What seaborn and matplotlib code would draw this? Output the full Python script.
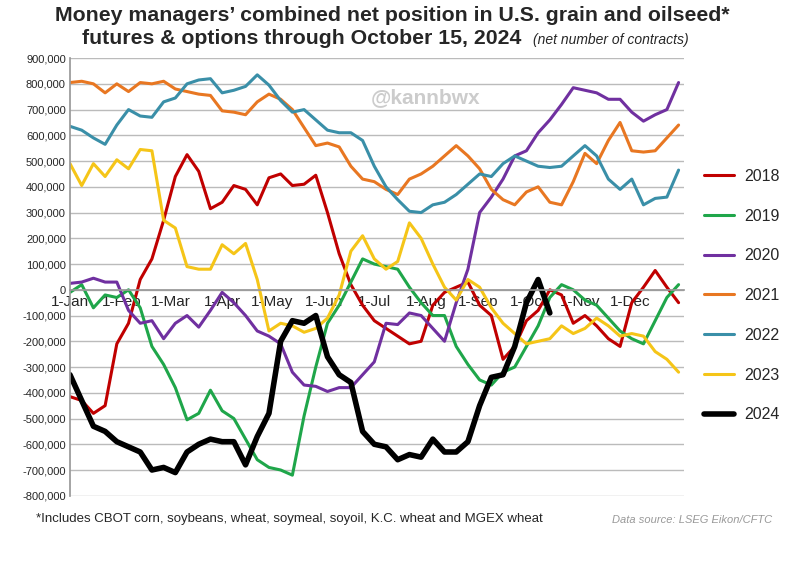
import matplotlib
matplotlib.use("Agg")
import matplotlib.pyplot as plt
import seaborn as sns
import pandas as pd
import numpy as np

years = ["2018", "2019", "2020", "2021", "2022", "2023", "2024"]
colors = ["#C00000", "#1FA64A", "#7030A0", "#E87722", "#3A8FA8", "#F5C518", "#000000"]

v2018 = [-415,-430,-480,-450,-210,-130,40,120,270,440,525,460,315,340,405,390,330,435,450,405,410,445,300,140,20,-60,-120,-150,-180,-210,-200,-60,-10,10,30,-60,-100,-270,-220,-120,-80,0,-20,-130,-100,-140,-190,-220,-50,10,75,10,-50]
v2019 = [-10,20,-70,-20,-30,0,-70,-220,-290,-380,-505,-480,-390,-470,-500,-580,-660,-690,-700,-720,-490,-300,-130,-60,30,120,100,90,80,10,-50,-100,-100,-220,-290,-350,-370,-320,-300,-220,-140,-30,20,0,-40,-60,-110,-160,-190,-210,-120,-30,20]
v2020 = [25,30,45,30,30,-80,-130,-120,-190,-130,-100,-145,-80,-10,-50,-100,-160,-180,-210,-320,-370,-375,-395,-380,-380,-330,-280,-130,-135,-90,-100,-150,-200,-50,80,300,360,430,520,540,610,660,720,785,775,765,740,740,690,655,680,700,805]
v2021 = [805,810,800,765,800,770,805,800,810,780,770,760,755,695,690,680,730,760,740,700,630,560,570,555,480,430,420,390,370,430,450,480,520,560,520,470,390,350,330,380,400,340,330,420,530,490,580,650,540,535,540,590,640]
v2022 = [635,620,590,565,640,700,675,670,730,745,800,815,820,765,775,790,835,795,735,690,700,660,620,610,610,580,480,400,350,305,300,330,340,370,410,450,440,490,520,500,480,475,480,520,560,520,430,390,430,330,355,360,465]
v2023 = [490,405,490,440,505,470,545,540,270,240,90,80,80,175,140,180,40,-160,-130,-140,-165,-150,-110,-20,150,210,120,80,110,260,200,100,10,-40,40,10,-70,-130,-170,-210,-200,-190,-140,-170,-150,-110,-140,-180,-170,-180,-240,-270,-320]
v2024 = [-330,-430,-530,-550,-590,-610,-630,-700,-690,-710,-630,-600,-580,-590,-590,-680,-570,-480,-200,-120,-130,-100,-260,-330,-360,-550,-600,-610,-660,-640,-650,-580,-630,-630,-590,-450,-340,-330,-220,-50,40,-90]
values = [v2018, v2019, v2020, v2021, v2022, v2023, v2024]

month_days = [1, 32, 61, 92, 122, 153, 183, 214, 245, 275, 306, 336]
month_labels = ["1-Jan", "1-Feb", "1-Mar", "1-Apr", "1-May", "1-Jun", "1-Jul", "1-Aug", "1-Sep", "1-Oct", "1-Nov", "1-Dec"]

rows = []
for y, vals in zip(years, values):
    for i, v in enumerate(vals):
        rows.append({"year": y, "day": 1 + 7 * i, "value": v * 1000})
df = pd.DataFrame(rows)

sns.set_theme(style="white")
plt.rcParams['font.family'] = ['Liberation Sans', 'DejaVu Sans']
fig = plt.figure(figsize=(8, 5.64), dpi=100)
ax = fig.add_axes([0.0875, 0.121, 0.767, 0.776])

for y, c in zip(years, colors):
    sub = df[df.year == y]
    sns.lineplot(data=sub, x="day", y="value", color=c, lw=4 if y == "2024" else 2.2,
                 ax=ax, label=y)

ax.set_xlim(1, 368)
ax.set_ylim(-800000, 900000)
ax.set_yticks(np.arange(-800000, 900001, 100000))
ax.set_yticklabels([f"{int(t):,}" for t in np.arange(-800000, 900001, 100000)], fontsize=8)
ax.yaxis.grid(True, color="#bbbbbb", lw=1)
ax.set_axisbelow(True)
ax.set_xticks(month_days)
ax.set_xticklabels(month_labels, fontsize=8)
ax.spines['bottom'].set_position(('data', 0))
ax.spines['bottom'].set_color("#999999")
ax.spines['left'].set_color("#999999")
for s in ['top', 'right']:
    ax.spines[s].set_visible(False)
ax.tick_params(axis='x', direction='out', length=3, color="#999999", pad=1)
ax.tick_params(axis='y', length=0, pad=3)
ax.set_xlabel("")
ax.set_ylabel("")

ax.legend(loc="upper left", bbox_to_anchor=(1.01, 0.78), frameon=False, fontsize=11.5,
          handlelength=1.9, labelspacing=1.55, handletextpad=0.6)

ax.text(0.49, 0.91, "@kannbwx", transform=ax.transAxes, fontsize=15, color="#cccccc",
        fontweight="bold", ha="left", va="center")

fig.text(0.49, 0.99, "Money managers\u2019 combined net position in U.S. grain and oilseed*",
         ha="center", va="top", fontsize=15.3, fontweight="bold")
fig.text(0.102, 0.948, "futures & options through October 15, 2024", ha="left", va="top",
         fontsize=15.3, fontweight="bold")
fig.text(0.666, 0.941, "(net number of contracts)", ha="left", va="top", fontsize=10, style="italic")
fig.text(0.045, 0.08, "*Includes CBOT corn, soybeans, wheat, soymeal, soyoil, K.C. wheat and MGEX wheat",
         ha="left", va="center", fontsize=9.5)
fig.text(0.965, 0.078, "Data source: LSEG Eikon/CFTC", ha="right", va="center", fontsize=8,
         style="italic", color="#999999")

fig.savefig("out.png", dpi=100)
